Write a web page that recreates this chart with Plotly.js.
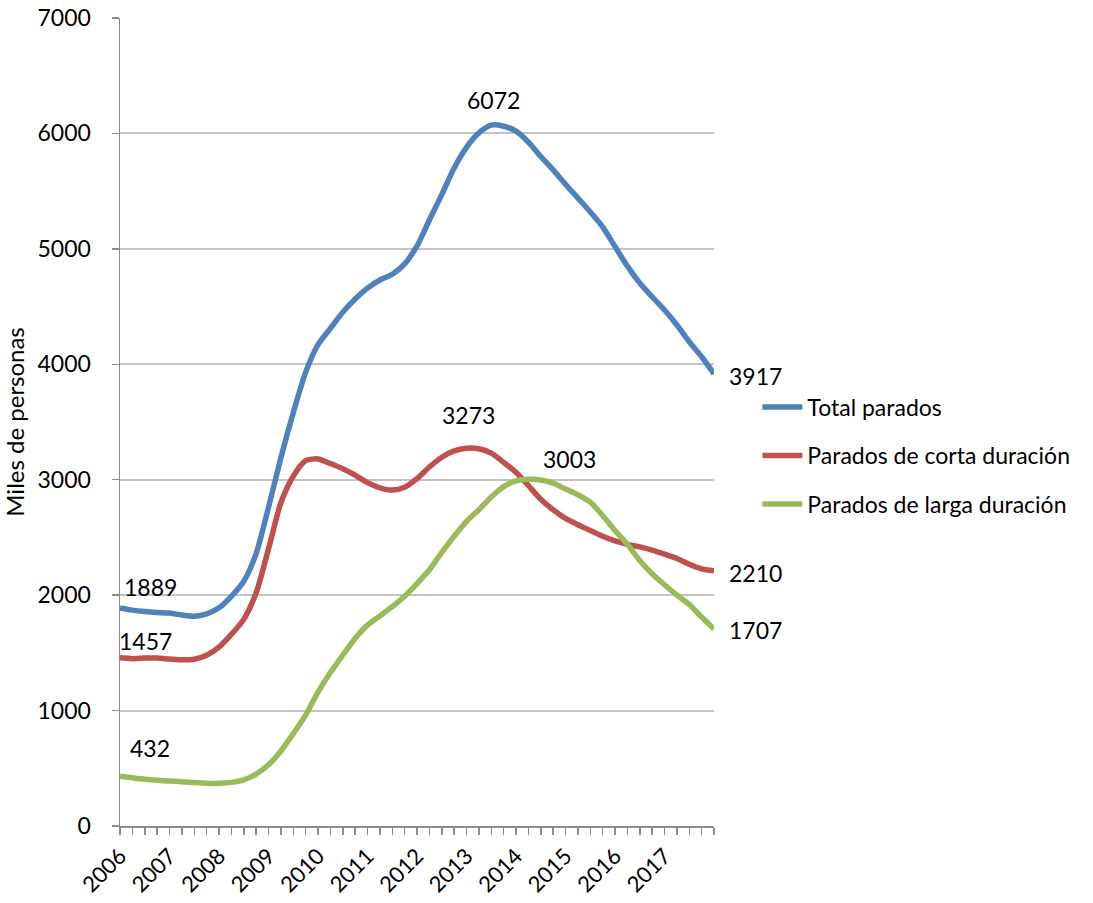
<!DOCTYPE html>
<html>
<head>
<meta charset="utf-8">
<script src="https://cdn.plot.ly/plotly-3.0.1.min.js"></script>
<style>
  html, body { margin: 0; padding: 0; background: #fff; }
  #chart { width: 1093px; height: 903px; }
</style>
</head>
<body>
<div id="chart"></div>
<script>
// quarterly series, 2006 T1 .. 2018 T1 (49 points), miles de personas
const years = ['2006', '2007', '2008', '2009', '2010', '2011', '2012', '2013', '2014', '2015', '2016', '2017'];

const totalParados = [
    1889, 1870, 1858, 1850, 1845, 1828, 1818, 1838, 1890, 1990, 2120, 2360,
    2760, 3190, 3580, 3930, 4170, 4310, 4450, 4565, 4660, 4730, 4780, 4870,
    5025, 5250, 5470, 5700, 5880, 6005, 6072, 6062, 6020, 5925, 5800, 5685,
    5560, 5440, 5320, 5190, 5020, 4850, 4705, 4585, 4470, 4340, 4195, 4065,
    3917
];

const paradosCorta = [
    1457, 1450, 1455, 1455, 1447, 1440, 1445, 1480, 1550, 1660, 1790, 2020,
    2400, 2800, 3030, 3165, 3180, 3140, 3095, 3040, 2975, 2930, 2910, 2935,
    3010, 3110, 3195, 3250, 3273, 3268, 3230, 3150, 3065, 2950, 2830, 2740,
    2665, 2610, 2560, 2510, 2470, 2440, 2418, 2390, 2355, 2318, 2268, 2228,
    2210
];

const paradosLarga = [
    432, 418, 405, 396, 390, 384, 376, 370, 370, 378, 400, 450,
    530, 650, 800, 960, 1160, 1330, 1480, 1625, 1740, 1820, 1900, 1990,
    2100, 2220, 2370, 2510, 2640, 2740, 2850, 2940, 2990, 3003, 2998, 2970,
    2920, 2870, 2805, 2690, 2560, 2440, 2300, 2185, 2090, 2000, 1920, 1810,
    1707
];

const seriesNames = ['Total parados', 'Parados de corta duración', 'Parados de larga duración'];
const seriesColors = ['#4F81BD', '#C0504D', '#9BBB59'];

const FONT = 'Lato, "Open Sans", sans-serif';

const idx = totalParados.map((v, i) => i);
const tickText = idx.map(i => (i % 4 === 0 && years[i / 4]) ? years[i / 4] : '');

const data = [totalParados, paradosCorta, paradosLarga].map((values, k) => ({
    x: idx,
    y: values,
    type: 'scatter',
    mode: 'lines',
    name: seriesNames[k],
    legendgroup: 'g' + k,
    line: { color: seriesColors[k], width: 5.5, shape: 'spline', smoothing: 0.7 },
    hoverinfo: 'x+y'
}));

const last = idx.length - 1;
const peakTotal = totalParados.indexOf(Math.max(...totalParados));
const peakCorta = paradosCorta.indexOf(Math.max(...paradosCorta));
const peakLarga = paradosLarga.indexOf(Math.max(...paradosLarga));

function label(series, i, xshift, yshift, xanchor) {
    return {
        x: i, y: series[i], xref: 'x', yref: 'y',
        text: String(series[i]), showarrow: false,
        xanchor: xanchor || 'center', yanchor: 'middle',
        xshift: xshift, yshift: yshift,
        font: { family: FONT, size: 23, color: '#000' }
    };
}

const annotations = [
    label(totalParados, 0, 30, 21),
    label(paradosCorta, 0, 25, 17),
    label(paradosLarga, 0, 30, 28),
    label(totalParados, peakTotal, 2, 25),
    label(paradosCorta, peakCorta, 2, 33),
    label(paradosLarga, peakLarga, 41, 20),
    label(totalParados, last, 13, -2, 'left'),
    label(paradosCorta, last, 13, -2, 'left'),
    label(paradosLarga, last, 13, -1, 'left')
];

const layout = {
    width: 1093,
    height: 903,
    margin: { l: 120, r: 379, t: 18, b: 77 },
    paper_bgcolor: '#fff',
    plot_bgcolor: '#fff',
    font: { family: FONT, size: 23, color: '#000' },
    showlegend: true,
    legend: {
        x: 1.073, xanchor: 'left',
        y: 0.545, yanchor: 'top',
        traceorder: 'grouped',
        tracegroupgap: 15.5,
        itemwidth: 40,
        font: { family: FONT, size: 23, color: '#000' },
        bgcolor: 'rgba(0,0,0,0)'
    },
    xaxis: {
        range: [0, last],
        tickmode: 'array',
        tickvals: idx,
        ticktext: tickText,
        tickangle: -45,
        ticks: 'outside',
        ticklen: 7,
        tickcolor: '#8c8c8c',
        tickwidth: 1.5,
        showline: true,
        linecolor: '#8c8c8c',
        linewidth: 1.5,
        showgrid: false,
        zeroline: false,
        tickfont: { family: FONT, size: 22, color: '#000' }
    },
    yaxis: {
        range: [0, 7000],
        dtick: 1000,
        ticks: 'outside',
        ticklen: 7,
        tickcolor: '#8c8c8c',
        tickwidth: 1.5,
        ticklabelstandoff: 16,
        showline: true,
        linecolor: '#8c8c8c',
        linewidth: 1.5,
        showgrid: true,
        gridcolor: '#c4c4c4',
        gridwidth: 2,
        zeroline: false,
        tickfont: { family: FONT, size: 23, color: '#000' },
        title: { text: 'Miles de personas', font: { family: FONT, size: 24, color: '#000' }, standoff: 8 }
    },
    annotations: annotations
};

Plotly.newPlot('chart', data, layout, { displayModeBar: false, staticPlot: true });
</script>
</body>
</html>
